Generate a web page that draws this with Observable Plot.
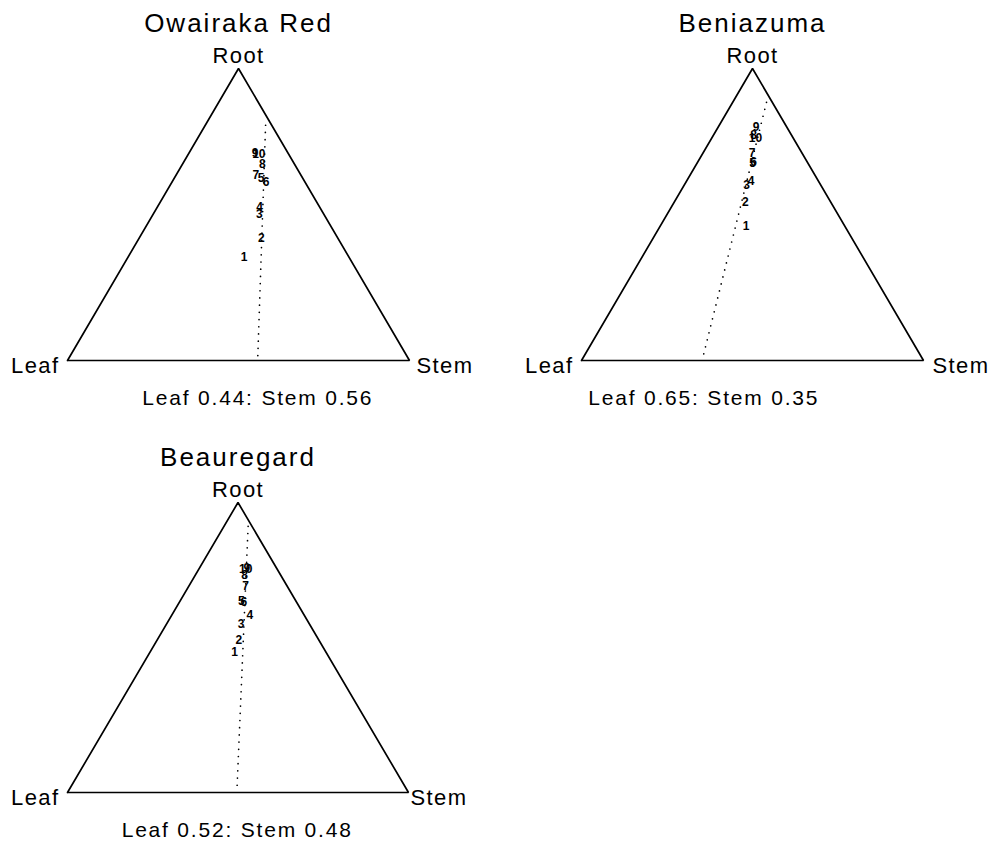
<!DOCTYPE html>
<html>
<head>
<meta charset="utf-8">
<script src="https://cdn.jsdelivr.net/npm/d3@7"></script>
<script src="https://cdn.jsdelivr.net/npm/@observablehq/plot@0.6"></script>
<style>
  html, body { margin: 0; padding: 0; background: #fff; }
  #wrap { position: relative; width: 991px; height: 841px; overflow: hidden; background: #fff; }
  .panel { position: absolute; }
  .panel g[font-size] { opacity: 0.999; }
  g[font-size="26"] { letter-spacing: 2px; }
  g[font-size="22"] { letter-spacing: 1.4px; }
  g[font-size="21"] { letter-spacing: 1.8px; }
</style>
</head>
<body>
<div id="wrap"></div>
<script>
// ---- data (fractions) ----
const cultivars = ["Owairaka Red", "Beniazuma", "Beauregard"];
const captions = ["Leaf 0.44: Stem 0.56", "Leaf 0.65: Stem 0.35", "Leaf 0.52: Stem 0.48"];
const vertexNames = ["Leaf", "Stem", "Root"];
const vertexRoot = [0, 0, 1];
const vertexStem = [0, 1, 0];
const harvestLabels = ["1", "2", "3", "4", "5", "6", "7", "8", "9", "10"];

// root and stem fractions of each numbered point (leaf = 1 - root - stem)
const owairakaRoot = [0.354, 0.419, 0.500, 0.525, 0.624, 0.611, 0.634, 0.671, 0.711, 0.707];
const owairakaStem = [0.339, 0.357, 0.311, 0.299, 0.254, 0.275, 0.234, 0.234, 0.193, 0.206];
const beniazumaRoot = [0.459, 0.542, 0.599, 0.614, 0.677, 0.679, 0.710, 0.771, 0.799, 0.763];
const beniazumaStem = [0.252, 0.208, 0.183, 0.189, 0.162, 0.164, 0.144, 0.118, 0.111, 0.127];
const beauregardRoot = [0.484, 0.527, 0.582, 0.613, 0.659, 0.656, 0.713, 0.751, 0.772, 0.771];
const beauregardStem = [0.248, 0.239, 0.218, 0.228, 0.180, 0.189, 0.166, 0.144, 0.140, 0.137];

// dotted line endpoints [bottom, top] as root / stem fractions
const owairakaLineRoot = [0.017, 0.815];
const owairakaLineStem = [0.548, 0.172];
const beniazumaLineRoot = [0.023, 0.894];
const beniazumaLineStem = [0.346, 0.096];
const beauregardLineRoot = [0.025, 0.926];
const beauregardLineStem = [0.485, 0.067];

// ---- ternary projection ----
const tx = (root, stem) => stem + root / 2;
const ty = (root) => root;
const toRows = (roots, stems, labels) =>
  roots.map((r, i) => ({x: tx(r, stems[i]), y: ty(r), label: labels ? labels[i] : null}));

const panels = [
  {name: cultivars[0], caption: captions[0], root: owairakaRoot, stem: owairakaStem,
   lr: owairakaLineRoot, ls: owairakaLineStem,
   left: 0, top: 0, width: 495, height: 420, m: [68, 86, 60, 67], stemDx: 7},
  {name: cultivars[1], caption: captions[1], root: beniazumaRoot, stem: beniazumaStem,
   lr: beniazumaLineRoot, ls: beniazumaLineStem,
   left: 496, top: 0, width: 495, height: 420, m: [68, 68, 60, 85], stemDx: 9},
  {name: cultivars[2], caption: captions[2], root: beauregardRoot, stem: beauregardStem,
   lr: beauregardLineRoot, ls: beauregardLineStem,
   left: 0, top: 432, width: 495, height: 409, m: [70, 87, 49, 67], stemDx: 2}
];

const wrap = document.getElementById("wrap");
for (const p of panels) {
  const verts = toRows(vertexRoot, vertexStem, vertexNames);
  const leafV = verts[0], stemV = verts[1], rootV = verts[2];
  const outline = [leafV, stemV, rootV, leafV];
  const pts = toRows(p.root, p.stem, harvestLabels);
  const line = toRows(p.lr, p.ls);
  const plot = Plot.plot({
    width: p.width,
    height: p.height,
    marginTop: p.m[0], marginRight: p.m[1], marginBottom: p.m[2], marginLeft: p.m[3],
    x: {domain: [0, 1], axis: null},
    y: {domain: [0, 1], axis: null},
    style: {fontFamily: "'Liberation Sans', Arial, Helvetica, sans-serif", background: "white", color: "black", overflow: "visible"},
    marks: [
      Plot.line(outline, {x: "x", y: "y", stroke: "black", strokeWidth: 1.7, strokeLinejoin: "miter"}),
      Plot.line(line, {x: "x", y: "y", stroke: "black", strokeWidth: 1.7, strokeLinecap: "round", strokeDasharray: "0,7.2"}),
      Plot.text(pts, {x: "x", y: "y", text: "label", fontSize: 12, fontWeight: "bold", fill: "black"}),
      Plot.text([leafV], {x: "x", y: "y", text: "label", fontSize: 22, textAnchor: "end", dx: -8, dy: 5, fill: "black"}),
      Plot.text([stemV], {x: "x", y: "y", text: "label", fontSize: 22, textAnchor: "start", dx: p.stemDx, dy: 5, fill: "black"}),
      Plot.text([rootV], {x: "x", y: "y", text: "label", fontSize: 22, dy: -13, fill: "black"}),
      Plot.text([rootV], {x: "x", y: "y", text: () => p.name, fontSize: 26, dy: -45, fill: "black"}),
      Plot.text([line[0]], {x: "x", y: () => 0, text: () => p.caption, fontSize: 21, dy: 38, fill: "black"})
    ]
  });
  plot.classList.add("panel");
  plot.style.left = p.left + "px";
  plot.style.top = p.top + "px";
  wrap.appendChild(plot);
}
</script>
</body>
</html>
